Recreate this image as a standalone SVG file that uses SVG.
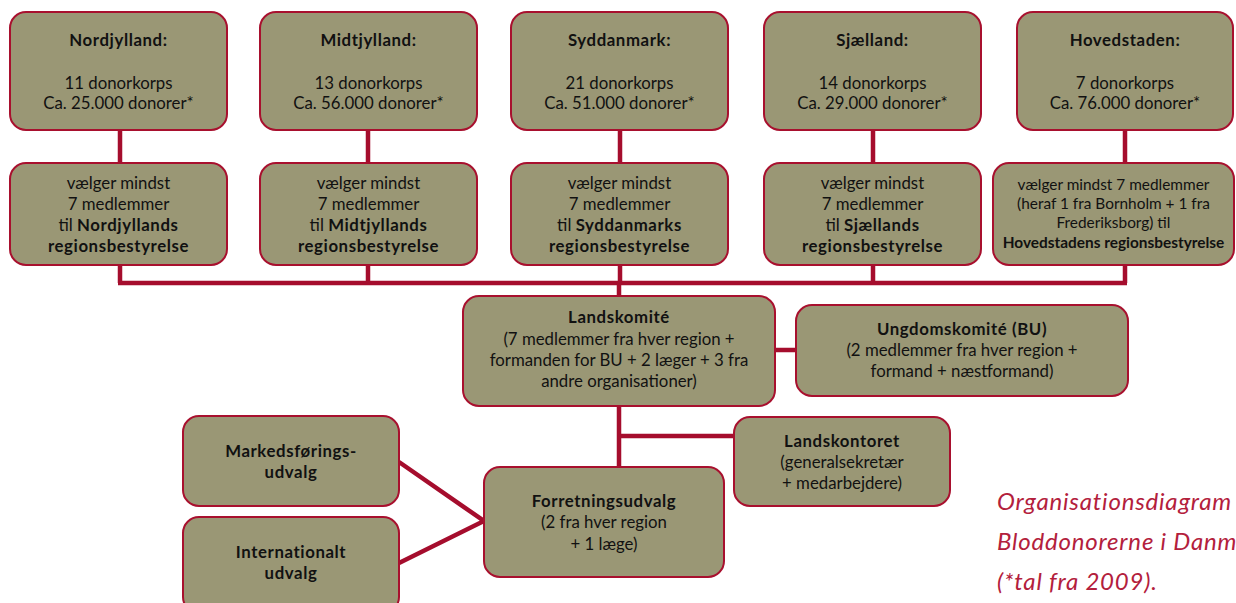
<svg xmlns="http://www.w3.org/2000/svg" width="1236" height="603" viewBox="0 0 1236 603">
<style>
.box{fill:#9a9775;stroke:#a8102e;stroke-width:2}
.t{font-family:Lato,"Liberation Sans",sans-serif;font-size:16.8px;fill:#111;text-anchor:middle}
.s{font-size:15.4px}
.b{font-weight:bold;letter-spacing:0.6px}
.c{fill:none;stroke:#a50d2d;stroke-width:4.5}
.cap{font-family:Lato,"Liberation Sans",sans-serif;font-size:24px;font-style:italic;fill:#b3203c;letter-spacing:0.8px}
</style>
<rect width="1236" height="603" fill="#fff"/>
<g id="connectors">
<path class="c" d="M120 130V283M368 130V283M620 130V283M873 130V283M1125 130V283M118 283H1127"/>
<path class="c" d="M619 283V296M619 406V467M619 436H734M775 350H796"/>
<path class="c" d="M399 462L484 521L399 563"/>
</g>
<g id="n-nordjylland"><rect class="box" x="10" y="12" width="217" height="118" rx="16"/>
<text class="t"><tspan class="b" x="118.5" y="46">Nordjylland:</tspan><tspan x="118.5" y="89">11 donorkorps</tspan><tspan x="118.5" y="109">Ca. 25.000 donorer*</tspan></text></g>
<g id="n-midtjylland"><rect class="box" x="260" y="12" width="217" height="118" rx="16"/>
<text class="t"><tspan class="b" x="368.5" y="46">Midtjylland:</tspan><tspan x="368.5" y="89">13 donorkorps</tspan><tspan x="368.5" y="109">Ca. 56.000 donorer*</tspan></text></g>
<g id="n-syddanmark"><rect class="box" x="511" y="12" width="217" height="118" rx="16"/>
<text class="t"><tspan class="b" x="619.5" y="46">Syddanmark:</tspan><tspan x="619.5" y="89">21 donorkorps</tspan><tspan x="619.5" y="109">Ca. 51.000 donorer*</tspan></text></g>
<g id="n-sjaelland"><rect class="box" x="764" y="12" width="217" height="118" rx="16"/>
<text class="t"><tspan class="b" x="872.5" y="46">Sjælland:</tspan><tspan x="872.5" y="89">14 donorkorps</tspan><tspan x="872.5" y="109">Ca. 29.000 donorer*</tspan></text></g>
<g id="n-hovedstaden"><rect class="box" x="1017" y="12" width="216" height="118" rx="16"/>
<text class="t"><tspan class="b" x="1125" y="46">Hovedstaden:</tspan><tspan x="1125" y="89">7 donorkorps</tspan><tspan x="1125" y="109">Ca. 76.000 donorer*</tspan></text></g>
<g id="n-nordjylland-rb"><rect class="box" x="10" y="163" width="217" height="102" rx="16"/>
<text class="t"><tspan x="118.5" y="189">vælger mindst</tspan><tspan x="118.5" y="210">7 medlemmer</tspan><tspan x="118.5" y="231">til <tspan class="b">Nordjyllands</tspan></tspan><tspan class="b" x="118.5" y="252">regionsbestyrelse</tspan></text></g>
<g id="n-midtjylland-rb"><rect class="box" x="260" y="163" width="217" height="102" rx="16"/>
<text class="t"><tspan x="368.5" y="189">vælger mindst</tspan><tspan x="368.5" y="210">7 medlemmer</tspan><tspan x="368.5" y="231">til <tspan class="b">Midtjyllands</tspan></tspan><tspan class="b" x="368.5" y="252">regionsbestyrelse</tspan></text></g>
<g id="n-syddanmark-rb"><rect class="box" x="511" y="163" width="217" height="102" rx="16"/>
<text class="t"><tspan x="619.5" y="189">vælger mindst</tspan><tspan x="619.5" y="210">7 medlemmer</tspan><tspan x="619.5" y="231">til <tspan class="b">Syddanmarks</tspan></tspan><tspan class="b" x="619.5" y="252">regionsbestyrelse</tspan></text></g>
<g id="n-sjaelland-rb"><rect class="box" x="764" y="163" width="217" height="102" rx="16"/>
<text class="t"><tspan x="872.5" y="189">vælger mindst</tspan><tspan x="872.5" y="210">7 medlemmer</tspan><tspan x="872.5" y="231">til <tspan class="b">Sjællands</tspan></tspan><tspan class="b" x="872.5" y="252">regionsbestyrelse</tspan></text></g>
<g id="n-hovedstaden-rb"><rect class="box" x="993" y="163" width="241" height="102" rx="16"/>
<text class="t s"><tspan x="1113.5" y="190">vælger mindst 7 medlemmer</tspan><tspan x="1113.5" y="209">(heraf 1 fra Bornholm + 1 fra</tspan><tspan x="1113.5" y="228">Frederiksborg) til</tspan><tspan font-weight="bold" x="1113.5" y="248">Hovedstadens regionsbestyrelse</tspan></text></g>
<g id="n-landskomite"><rect class="box" x="463" y="296" width="312" height="110" rx="16"/>
<text class="t"><tspan class="b" x="619" y="323">Landskomité</tspan><tspan x="619" y="345">(7 medlemmer fra hver region +</tspan><tspan x="619" y="366">formanden for BU + 2 læger + 3 fra</tspan><tspan x="619" y="387">andre organisationer)</tspan></text></g>
<g id="n-ungdomskomite"><rect class="box" x="796" y="305" width="332" height="91" rx="16"/>
<text class="t"><tspan class="b" x="962" y="335">Ungdomskomité (BU)</tspan><tspan x="962" y="356">(2 medlemmer fra hver region +</tspan><tspan x="962" y="377">formand + næstformand)</tspan></text></g>
<g id="n-landskontoret"><rect class="box" x="734" y="417" width="216" height="89" rx="16"/>
<text class="t"><tspan class="b" x="842" y="447">Landskontoret</tspan><tspan x="842" y="468">(generalsekretær</tspan><tspan x="842" y="489">+ medarbejdere)</tspan></text></g>
<g id="n-forretningsudvalg"><rect class="box" x="484" y="467" width="240" height="110" rx="16"/>
<text class="t"><tspan class="b" x="604" y="507">Forretningsudvalg</tspan><tspan x="604" y="528">(2 fra hver region</tspan><tspan x="604" y="550">+ 1 læge)</tspan></text></g>
<g id="n-markedsforing"><rect class="box" x="183" y="416" width="216" height="90" rx="16"/>
<text class="t b"><tspan x="291" y="457">Markedsførings-</tspan><tspan x="291" y="478">udvalg</tspan></text></g>
<g id="n-internationalt"><rect class="box" x="183" y="517" width="216" height="96" rx="16"/>
<text class="t b"><tspan x="291" y="558">Internationalt</tspan><tspan x="291" y="579">udvalg</tspan></text></g>
<text class="cap"><tspan x="997" y="510">Organisationsdiagram</tspan><tspan x="997" y="550">Bloddonorerne i Danm</tspan><tspan x="997" y="590">(*tal fra 2009).</tspan></text>
</svg>
